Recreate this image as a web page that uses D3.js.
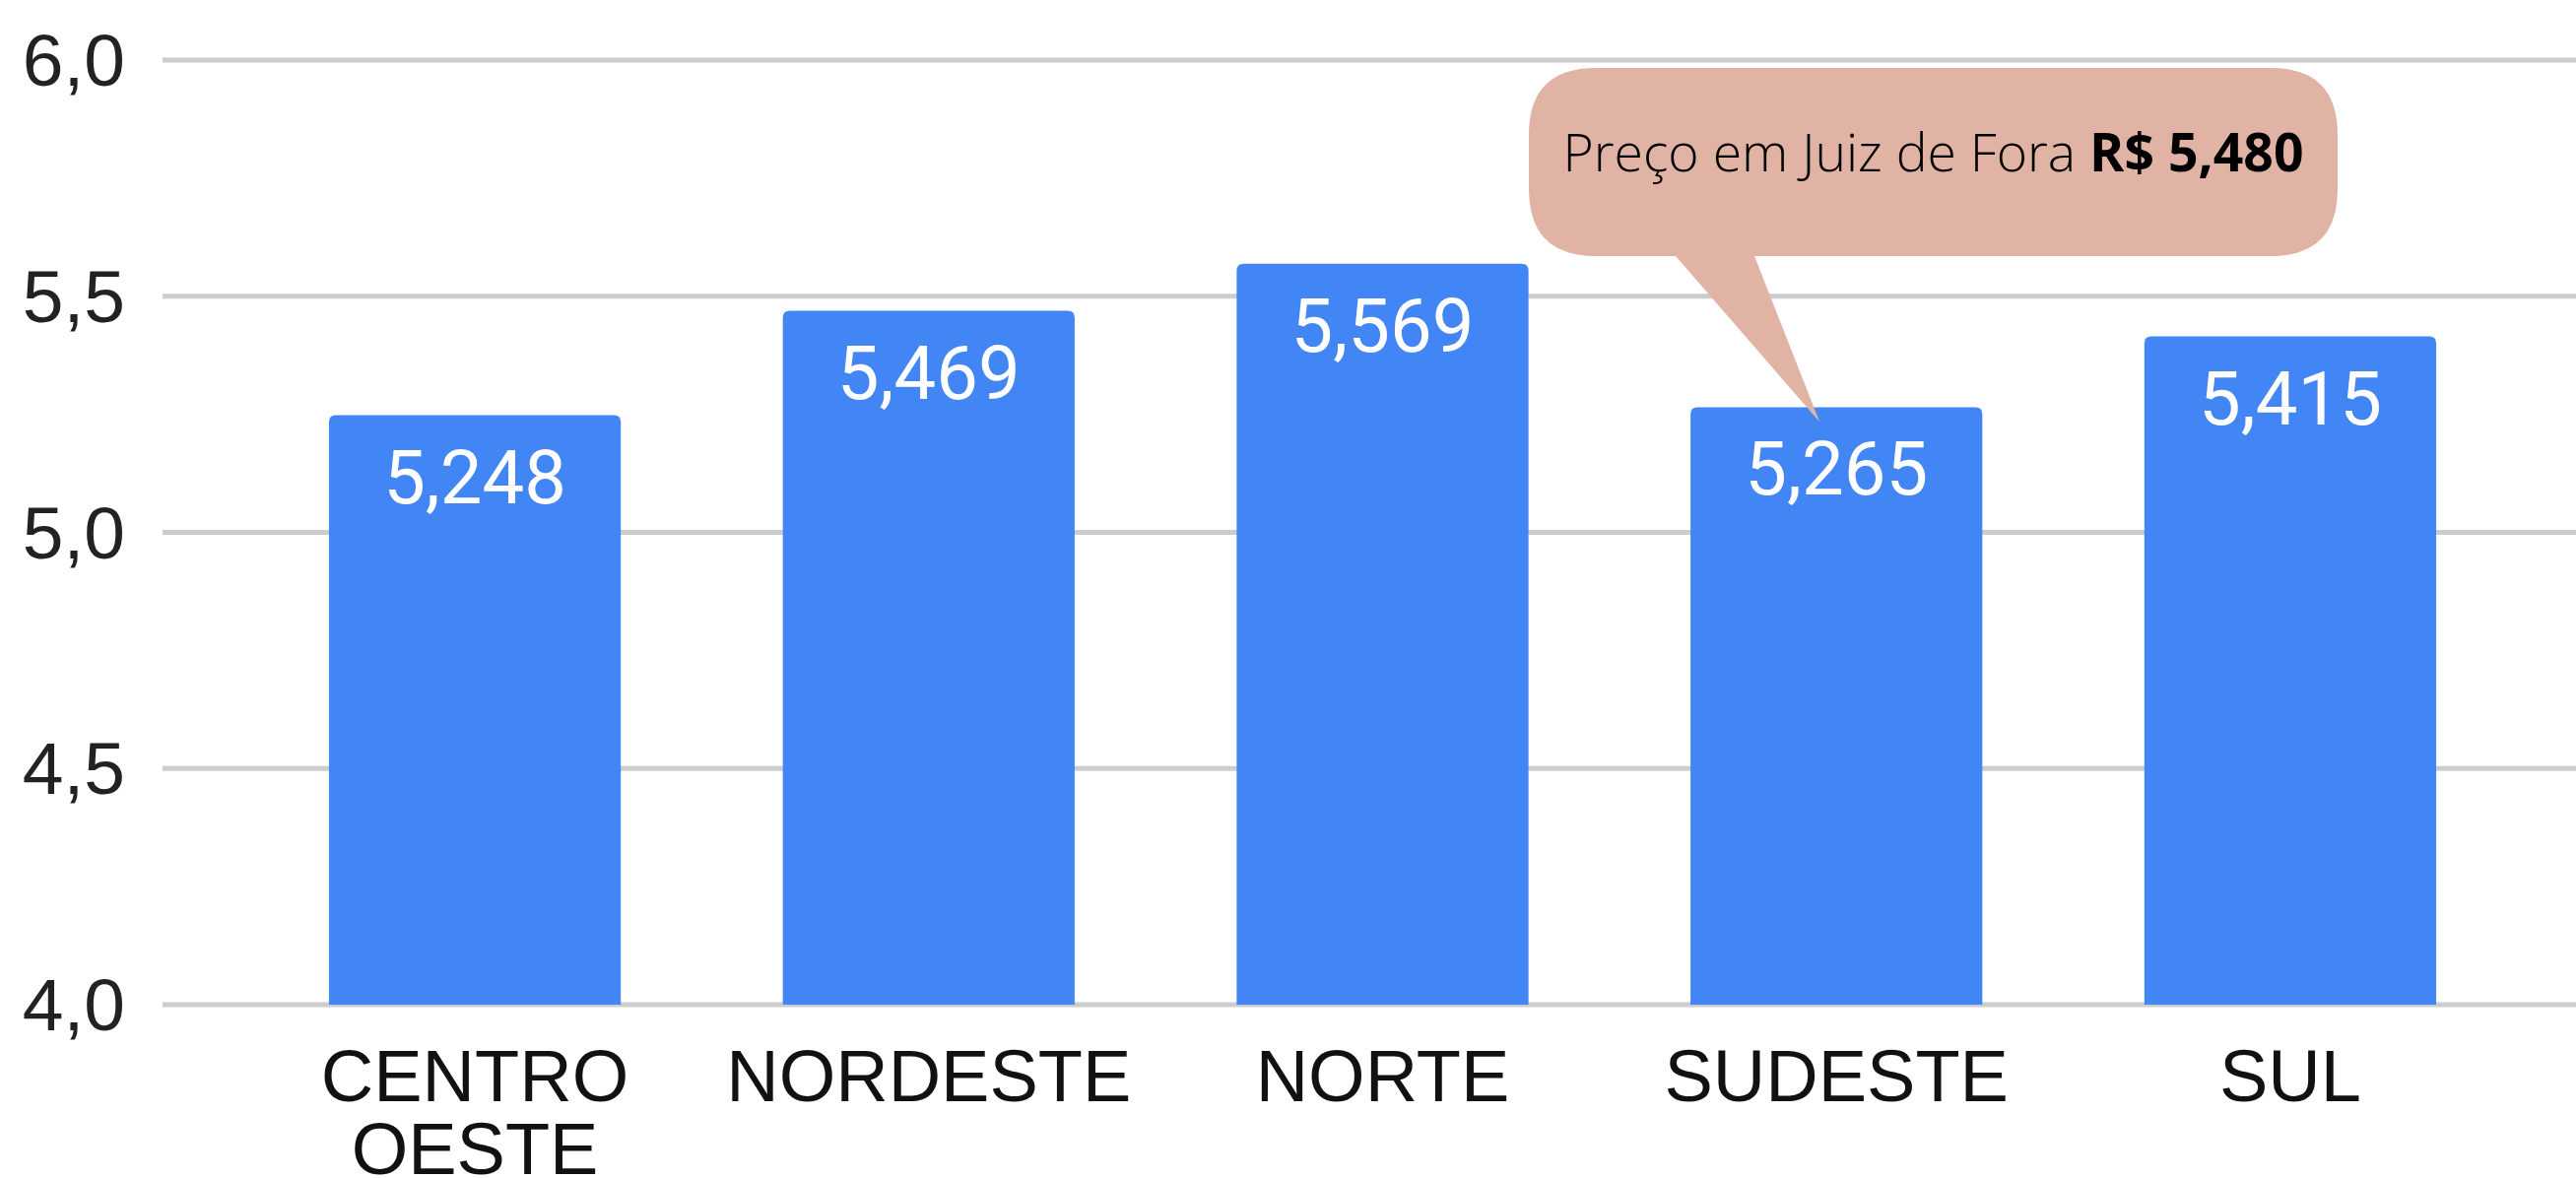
<!DOCTYPE html>
<html lang="pt">
<head>
<meta charset="UTF-8">
<title>Preço por região</title>
<script src="https://d3js.org/d3.v7.min.js"></script>
<style>
  body { margin: 0; background: #fff; }
</style>
</head>
<body>
<script>

    const width = 2615;
    const height = 1196;

    const regions = ['CENTRO OESTE', 'NORDESTE', 'NORTE', 'SUDESTE', 'SUL'];
    const prices = [5.248, 5.469, 5.569, 5.265, 5.415];
    const yTicks = [4.0, 4.5, 5.0, 5.5, 6.0];
    const localCity = 'Juiz de Fora';
    const localPrice = 5.480;
    const pointTo = 'SUDESTE';

    const br = d3.formatLocale({decimal: ",", thousands: ".", grouping: [3], currency: ["R$ ", ""]});
    const fmt3 = br.format(".3f");
    const fmt1 = br.format(".1f");

    const svg = d3.select("body").append("svg")
        .attr("width", width)
        .attr("height", height);

    const y = d3.scaleLinear().domain([4, 6]).range([1020, 61]);
    const x = d3.scaleBand().domain(regions).range([251, 2556]).paddingInner(0.357).paddingOuter(0.18);

    // grid lines
    svg.append("g").selectAll("line")
        .data(yTicks)
        .join("line")
        .attr("x1", 165).attr("x2", width)
        .attr("y1", d => y(d)).attr("y2", d => y(d))
        .attr("stroke", "#cccccc")
        .attr("stroke-width", 5);

    svg.append("g").selectAll("text")
        .data(yTicks)
        .join("text")
        .attr("x", 127)
        .attr("y", d => y(d) + 26)
        .attr("text-anchor", "end")
        .attr("font-family", "'Liberation Sans', Arial, sans-serif")
        .attr("font-size", 75)
        .attr("fill", "#222")
        .text(d => fmt1(d));

    // bars with slightly rounded tops
    const r = 7;
    function barPath(d, i) {
        const x0 = x(regions[i]), x1 = x0 + x.bandwidth();
        const top = y(d), bottom = y(4);
        return `M${x0},${bottom}V${top + r}Q${x0},${top} ${x0 + r},${top}H${x1 - r}Q${x1},${top} ${x1},${top + r}V${bottom}Z`;
    }

    svg.append("g").selectAll("path")
        .data(prices)
        .join("path")
        .attr("d", barPath)
        .attr("fill", "#4285f4");

    svg.append("g").selectAll("text")
        .data(prices)
        .join("text")
        .attr("x", (d, i) => x(regions[i]) + x.bandwidth() / 2)
        .attr("y", d => y(d) + 89)
        .attr("text-anchor", "middle")
        .attr("font-family", "Roboto, sans-serif")
        .attr("font-size", 76)
        .attr("fill", "#ffffff")
        .text(d => fmt3(d));

    // category labels (split on space for two lines)
    const xl = svg.append("g").selectAll("text")
        .data(regions)
        .join("text")
        .attr("text-anchor", "middle")
        .attr("font-family", "'Liberation Sans', Arial, sans-serif")
        .attr("font-size", 74)
        .attr("fill", "#111");
    xl.each(function(d) {
        const t = d3.select(this);
        const cx = x(d) + x.bandwidth() / 2;
        d.split(" ").forEach((w, k) => {
            t.append("tspan").attr("x", cx).attr("y", 1118 + k * 74).text(w);
        });
    });

    // callout balloon
    const bx0 = 1552, bx1 = 2373, by0 = 69, by1 = 260, rr = 68;
    const tipX = x(pointTo) + x.bandwidth() / 2 - 17;
    const tipY = y(prices[regions.indexOf(pointTo)]) + 15;
    const tailL = 1701, tailR = 1781;
    const balloon = `M${bx0 + rr},${by0}H${bx1 - rr}Q${bx1},${by0} ${bx1},${by0 + rr}V${by1 - rr}Q${bx1},${by1} ${bx1 - rr},${by1}`
        + `H${tailR}L${tipX},${tipY}L${tailL},${by1}`
        + `H${bx0 + rr}Q${bx0},${by1} ${bx0},${by1 - rr}V${by0 + rr}Q${bx0},${by0} ${bx0 + rr},${by0}Z`;

    svg.append("path")
        .attr("d", balloon)
        .attr("fill", "#e0b3a5");

    const ct = svg.append("text")
        .attr("x", (bx0 + bx1) / 2)
        .attr("y", 174)
        .attr("text-anchor", "middle")
        .attr("font-family", "'Open Sans', sans-serif")
        .attr("font-size", 53.5)
        .attr("fill", "#000");
    ct.append("tspan").attr("font-weight", 300).text(`Preço em ${localCity} `);
    ct.append("tspan").attr("font-weight", 700).text(br.format("$.3f")(localPrice));

</script>
</body>
</html>
